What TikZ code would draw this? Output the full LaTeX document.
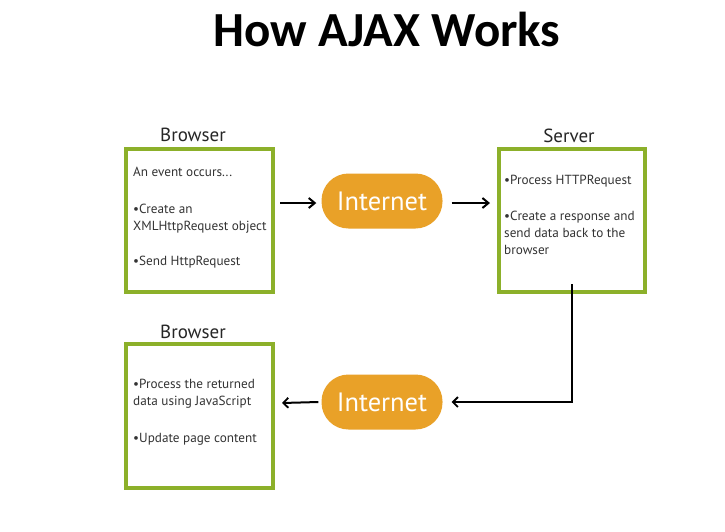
\documentclass[tikz,border=0pt]{standalone}
\usepackage{fontspec}
\setmainfont{PT Sans}
\newfontfamily\titlefont{Carlito}
\usetikzlibrary{arrows.meta}
\begin{document}
\begin{tikzpicture}[x=1pt,y=-1pt,
  box/.style={draw=boxgreen,line width=3.5pt,fill=white},
  pill/.style={fill=pillorange,rounded corners=27pt,minimum width=121pt,minimum height=55pt,text=white,font=\fontsize{26.5}{30}\selectfont,inner sep=0pt},
  boxtitle/.style={font=\fontsize{19}{22}\selectfont,text=black!85,anchor=base},
  boxtext/.style={font=\fontsize{13.2}{17}\selectfont,text=black!80,anchor=base west,inner sep=0pt},
  arr/.style={-{Straight Barb[length=6pt,width=10pt,line width=2pt]},line width=2.2pt,black},
  arrthin/.style={-{Straight Barb[length=5pt,width=10pt,line width=1.8pt]},line width=2pt,black}]
\definecolor{boxgreen}{HTML}{8CB02A}
\definecolor{pillorange}{HTML}{E9A128}
\useasboundingbox (0,0) rectangle (725,531);
\fill[white] (0,0) rectangle (725,531);
\node[font=\titlefont\bfseries\fontsize{49}{53}\selectfont,anchor=base] (title) at (387,46) {How AJAX Works};
% boxes
\draw[box] (126,149) rectangle (273,292);
\coordinate (b1e) at (273,203);
\draw[box] (499,149) rectangle (645,292);
\coordinate (sw) at (499,203);\coordinate (ss) at (572,292);
\draw[box] (126,344) rectangle (273,488);
\coordinate (b2e) at (273,403);
\node[boxtitle] (t1) at (193,141) {Browser};
\node[boxtitle] (t2) at (569,142) {Server};
\node[boxtitle] (t3) at (193,338) {Browser};
\node[boxtext] (x1a) at (133,176) {An event occurs...};
\node[boxtext] (x1b) at (133,213) {•Create an};
\node[boxtext] (x1c) at (133,230) {XMLHttpRequest object};
\node[boxtext] (x1d) at (133,265) {•Send HttpRequest};
\node[boxtext] (x2a) at (504,184) {•Process HTTPRequest};
\node[boxtext] (x2b) at (504,220) {•Create a response and};
\node[boxtext] (x2c) at (504,237) {send data back to the};
\node[boxtext] (x2d) at (504,254) {browser};
\node[boxtext] (x3a) at (133,388) {•Process the returned};
\node[boxtext] (x3b) at (133,405) {data using JavaScript};
\node[boxtext] (x3c) at (133,442) {•Update page content};
% pills
\node[pill] (i1) at (382,201) {Internet};
\node[pill] (i2) at (382,402) {Internet};
% arrows
\draw[arr] ([xshift=7pt]b1e) -- ([xshift=-5pt]i1.west |- b1e);
\draw[arr] ([xshift=9pt]i1.east |- sw) -- ([xshift=-9pt]sw);
\draw[arrthin] ([yshift=8pt]ss) |- ([xshift=9pt]i2.east);
\draw[arrthin] ([xshift=-3pt]i2.west) -- ([xshift=9pt]b2e);
\end{tikzpicture}
\end{document}
